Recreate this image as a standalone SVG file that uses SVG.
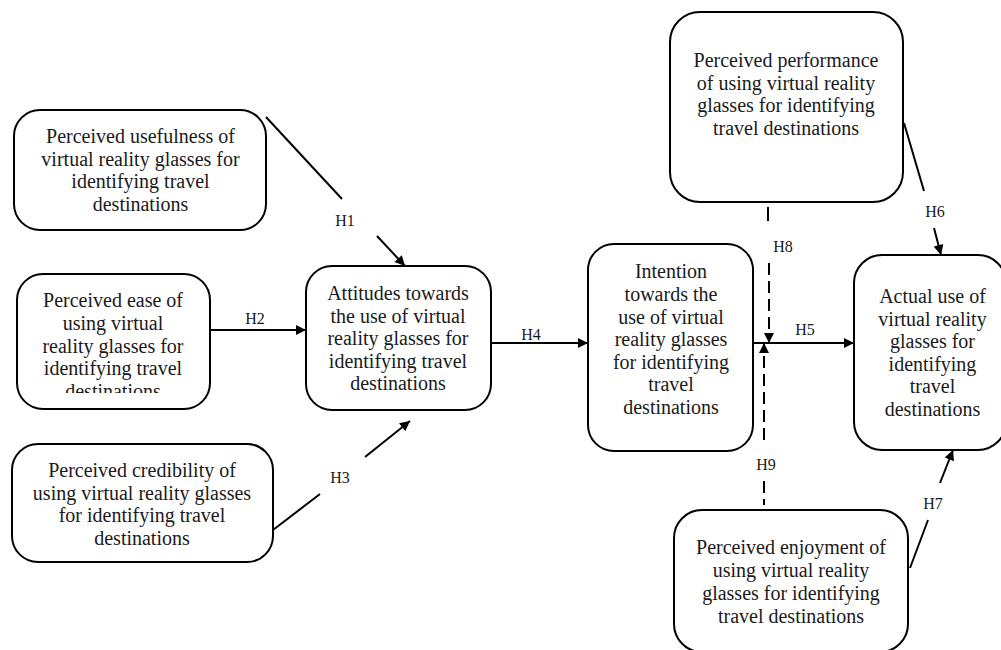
<svg xmlns="http://www.w3.org/2000/svg" width="1001" height="650" viewBox="0 0 1001 650">
<style>
.box{fill:#fff;stroke:#000;stroke-width:2}
.t{font-family:"Liberation Serif","Times New Roman",serif;font-size:20px;fill:#1a1a1a;text-anchor:middle}
.lbl{font-family:"Liberation Serif","Times New Roman",serif;font-size:16px;fill:#1a1a1a;text-anchor:middle}
.ln{stroke:#000;stroke-width:2;fill:none}
.dash{stroke:#000;stroke-width:2;fill:none;stroke-dasharray:12 6}
</style>
<defs>
<marker id="arr" viewBox="0 0 10 10" refX="10" refY="5" markerWidth="6" markerHeight="5" markerUnits="strokeWidth" orient="auto">
<path d="M0,0 L10,5 L0,10 z" fill="#000"/>
</marker>
<clipPath id="clip2"><rect x="0" y="270" width="230" height="123"/></clipPath>
</defs>
<rect width="1001" height="650" fill="#fff"/>

<g id="connectors">
<line class="ln" x1="266" y1="117" x2="342" y2="199"/>
<text class="lbl" x="345" y="226">H1</text>
<line class="ln" x1="377" y1="236" x2="405" y2="266" marker-end="url(#arr)"/>

<line class="ln" x1="210" y1="330" x2="306" y2="330" marker-end="url(#arr)"/>
<text class="lbl" x="255" y="324">H2</text>

<line class="ln" x1="273" y1="530" x2="320" y2="494"/>
<text class="lbl" x="340" y="483">H3</text>
<line class="ln" x1="365" y1="457" x2="410" y2="421" marker-end="url(#arr)"/>

<line class="ln" x1="491" y1="343" x2="588" y2="343" marker-end="url(#arr)"/>
<text class="lbl" x="531" y="340">H4</text>

<line class="ln" x1="753" y1="343" x2="854" y2="343" marker-end="url(#arr)"/>
<text class="lbl" x="805" y="335">H5</text>

<line class="ln" x1="904" y1="123" x2="924" y2="191"/>
<text class="lbl" x="935" y="217">H6</text>
<line class="ln" x1="934" y1="228" x2="941" y2="255" marker-end="url(#arr)"/>

<line class="ln" x1="910" y1="568" x2="928" y2="520"/>
<text class="lbl" x="933" y="509">H7</text>
<line class="ln" x1="940" y1="483" x2="953" y2="450" marker-end="url(#arr)"/>

<line class="ln" x1="768" y1="207" x2="768" y2="221"/>
<text class="lbl" x="783" y="252">H8</text>
<line class="dash" x1="769" y1="263" x2="769" y2="343" stroke-dasharray="2 6 12 6 12 6 12 6 12 6" marker-end="url(#arr)"/>

<line class="dash" x1="764" y1="440" x2="764" y2="343" marker-end="url(#arr)"/>
<text class="lbl" x="766" y="470">H9</text>
<line class="dash" x1="764" y1="481" x2="764" y2="505" stroke-dasharray="2 8 14 6"/>
</g>

<g id="usefulness">
<rect class="box" x="14" y="110" width="252" height="120" rx="26"/>
<text class="t" x="140.5" y="143">Perceived usefulness of</text>
<text class="t" x="140.5" y="166">virtual reality glasses for</text>
<text class="t" x="140.5" y="188">identifying travel</text>
<text class="t" x="140.5" y="211">destinations</text>
</g>

<g id="ease">
<rect class="box" x="17" y="274" width="193" height="135" rx="26"/>
<g clip-path="url(#clip2)">
<text class="t" x="113" y="307">Perceived ease of</text>
<text class="t" x="113" y="330">using virtual</text>
<text class="t" x="113" y="353">reality glasses for</text>
<text class="t" x="113" y="375">identifying travel</text>
<text class="t" x="113" y="398">destinations</text>
</g>
</g>

<g id="credibility">
<rect class="box" x="12" y="444" width="261" height="118" rx="26"/>
<text class="t" x="142" y="477">Perceived credibility of</text>
<text class="t" x="142" y="500">using virtual reality glasses</text>
<text class="t" x="142" y="522">for identifying travel</text>
<text class="t" x="142" y="545">destinations</text>
</g>

<g id="attitudes">
<rect class="box" x="306" y="266" width="185" height="144" rx="26"/>
<text class="t" x="398" y="300">Attitudes towards</text>
<text class="t" x="398" y="322.5">the use of virtual</text>
<text class="t" x="398" y="345">reality glasses for</text>
<text class="t" x="398" y="367.5">identifying travel</text>
<text class="t" x="398" y="390">destinations</text>
</g>

<g id="intention">
<rect class="box" x="588" y="244" width="165" height="207" rx="26"/>
<text class="t" x="671" y="278">Intention</text>
<text class="t" x="671" y="301">towards the</text>
<text class="t" x="671" y="323.5">use of virtual</text>
<text class="t" x="671" y="346">reality glasses</text>
<text class="t" x="671" y="368.5">for identifying</text>
<text class="t" x="671" y="391">travel</text>
<text class="t" x="671" y="414">destinations</text>
</g>

<g id="performance">
<rect class="box" x="670" y="12" width="233" height="190" rx="30"/>
<text class="t" x="786" y="67">Perceived performance</text>
<text class="t" x="786" y="89.5">of using virtual reality</text>
<text class="t" x="786" y="112">glasses for identifying</text>
<text class="t" x="786" y="134.5">travel destinations</text>
</g>

<g id="actual">
<rect class="box" x="854" y="255" width="152" height="195" rx="28"/>
<text class="t" x="932.5" y="303">Actual use of</text>
<text class="t" x="932.5" y="325.5">virtual reality</text>
<text class="t" x="932.5" y="348">glasses for</text>
<text class="t" x="932.5" y="370.5">identifying</text>
<text class="t" x="932.5" y="393">travel</text>
<text class="t" x="932.5" y="416">destinations</text>
</g>

<g id="enjoyment">
<rect class="box" x="674" y="510" width="234" height="142" rx="28"/>
<text class="t" x="791" y="554">Perceived enjoyment of</text>
<text class="t" x="791" y="577">using virtual reality</text>
<text class="t" x="791" y="600">glasses for identifying</text>
<text class="t" x="791" y="623">travel destinations</text>
</g>
</svg>
